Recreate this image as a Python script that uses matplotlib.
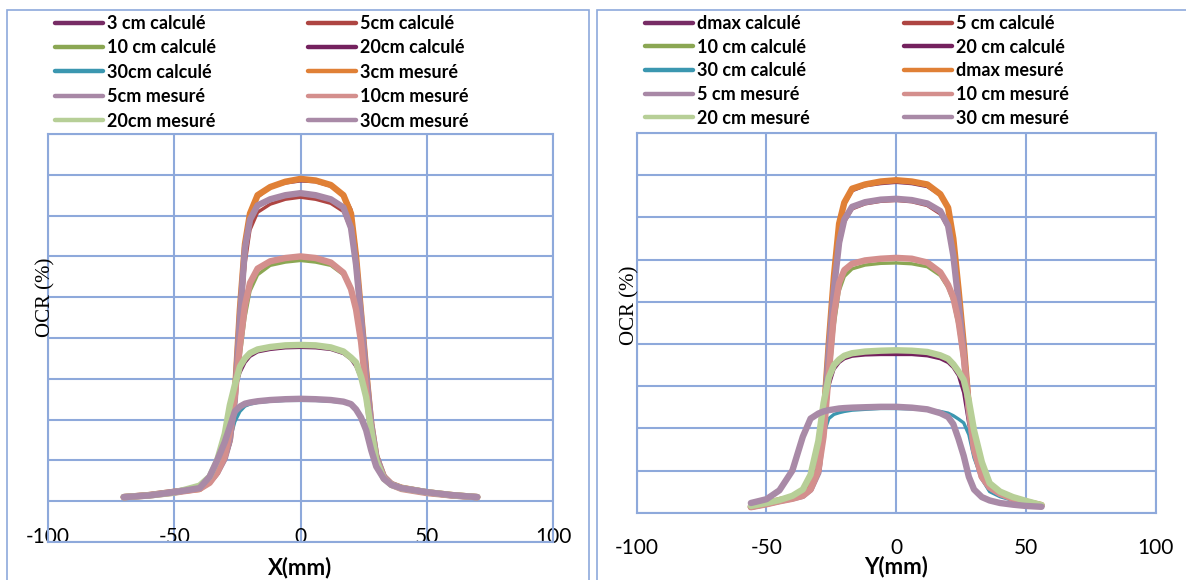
import matplotlib
matplotlib.use("Agg")
import matplotlib.pyplot as plt
from matplotlib.patches import Rectangle

plt.rcParams["axes.unicode_minus"] = False

# positions (mm) for the two profiles
x_pos = [-70, -60, -50, -40, -36, -33, -30, -28, -26, -24, -22, -20, -17, -12, -6, 0,
         6, 12, 17, 20, 22, 24, 26, 28, 30, 33, 36, 40, 50, 60, 70]
y_pos = [-56, -50, -45, -40, -36, -33, -30, -28, -26, -24, -22, -20, -17, -12, -6, 0,
         6, 12, 17, 20, 22, 24, 26, 28, 30, 33, 36, 40, 45, 50, 56]

# OCR values - X profile
x_3_calc = [0.9, 1.4, 2.2, 3.0, 4.5, 6.5, 10, 14, 22, 42, 62, 70.5, 74.5, 77, 78, 78.5,
            78.3, 77.2, 75.2, 71.5, 62, 48, 34, 21, 12, 6.5, 4.3, 3.2, 2.1, 1.4, 0.9]
x_5_calc = [0.9, 1.4, 2.2, 3.0, 4.5, 6.5, 10, 14, 22, 40, 58, 66.5, 70.8, 72.8, 74, 74.5,
            74, 73, 71, 66.5, 58, 46, 32, 20, 11.5, 6.3, 4.3, 3.2, 2.1, 1.4, 0.9]
x_10_calc = [0.9, 1.3, 2.0, 2.9, 4.3, 6.5, 10.5, 16, 24, 35, 45, 51.5, 55.5, 57.8, 58.6, 59,
             58.6, 57.8, 55.5, 52, 48, 41, 30, 20, 12, 6.5, 4.2, 3.1, 2.0, 1.4, 0.9]
x_20_calc = [0.8, 1.3, 2.0, 3.0, 4.5, 8, 14, 20.5, 27, 31.5, 34, 35.5, 36.6, 37.2, 37.6, 37.7,
             37.6, 37.2, 36.2, 34.8, 33, 30, 25, 17.5, 10, 5.5, 3.8, 3.0, 2.0, 1.4, 0.8]
x_30_calc = [0.9, 1.3, 2.0, 3.0, 5.0, 7.5, 11, 15, 19.5, 22, 23.3, 23.8, 24.2, 24.5, 24.7, 24.7,
             24.7, 24.5, 24.2, 23.6, 22.5, 20.5, 18.5, 14, 10, 6.5, 4.5, 3.4, 2.2, 1.5, 0.9]
x_3_mes = [1.0, 1.5, 2.3, 3.0, 5.0, 7.5, 11, 15, 26, 47, 63, 70.5, 75, 77, 78.3, 79,
           78.6, 77.5, 75, 70.5, 60, 46, 32, 19, 11, 6, 4.2, 3.3, 2.2, 1.5, 1.0]
x_5_mes = [1.0, 1.5, 2.3, 3.2, 4.8, 7, 10.5, 15, 25, 45, 62, 69, 72.5, 74, 75, 75.5,
           75, 74, 72, 67, 58, 45, 31, 19, 11, 6, 4.2, 3.2, 2.2, 1.4, 1.0]
x_10_mes = [1.0, 1.4, 2.1, 3.0, 4.5, 7, 11, 17, 26, 38, 48, 53.5, 57, 58.8, 59.6, 60,
            59.6, 58.5, 56, 52, 47, 39, 27, 17, 10, 5.8, 4.0, 3.0, 2.0, 1.4, 1.0]
x_20_mes = [1.0, 1.4, 2.1, 3.8, 6, 10, 16.5, 23.5, 28.5, 33, 35, 36.3, 37.2, 37.8, 38.2, 38.3,
            38.2, 37.7, 36.7, 35.2, 34, 30.5, 25.5, 17.5, 10, 5.5, 4.0, 3.2, 2.2, 1.5, 1.0]
x_30_mes = [1.0, 1.4, 2.2, 3.2, 6, 10, 14.5, 18.2, 22, 23.2, 23.9, 24.2, 24.5, 24.8, 25, 25.1,
            25, 24.8, 24.4, 23.8, 22.5, 20.5, 17.4, 12.5, 8.5, 5.5, 4.0, 3.2, 2.2, 1.5, 1.0]

# OCR values - Y profile
y_3_calc = [1.3, 2.0, 2.8, 3.4, 4.0, 5.5, 9.5, 21, 39, 55, 68, 73, 76.3, 77.5, 78, 78.3,
            78, 77.3, 75.3, 72.3, 65.5, 53, 39, 24, 15, 8.5, 6.0, 4.5, 3.3, 2.5, 1.7]
y_5_calc = [1.3, 2.0, 2.7, 3.3, 3.9, 5.3, 9.3, 20, 37, 52, 63, 68.8, 72, 73.2, 73.8, 74,
            73.7, 72.8, 70.8, 67.5, 60.5, 49.5, 37, 23, 14.5, 8.3, 5.9, 4.4, 3.2, 2.4, 1.6]
y_10_calc = [1.2, 1.9, 2.6, 3.2, 3.9, 5.3, 9.5, 17, 30, 44, 52.5, 56, 57.8, 58.7, 59.1, 59.2,
             59, 58.3, 56.2, 53.3, 50, 44, 35, 24, 14.5, 8.3, 5.8, 4.4, 3.2, 2.4, 1.6]
y_20_calc = [1.4, 2.1, 2.8, 3.7, 5.0, 8.0, 15, 22, 30, 34, 35.6, 36.5, 37.1, 37.4, 37.5, 37.5,
             37.5, 37.2, 36.5, 35.6, 34.4, 32.5, 28.5, 21, 15, 9.5, 6.3, 4.6, 3.5, 2.6, 1.7]
y_30_calc = [1.2, 1.8, 2.5, 3.3, 4.2, 6.0, 11, 18.5, 22.3, 23.3, 23.7, 24, 24.3, 24.5, 24.7, 24.7,
             24.6, 24.4, 24, 23.6, 23, 22.2, 21.3, 18.5, 13, 8, 5.0, 3.8, 2.9, 2.2, 1.6]
y_3_mes = [1.4, 2.2, 3.0, 3.6, 4.2, 5.8, 10, 22, 40, 56, 68.5, 73.5, 76.8, 77.8, 78.5, 78.8,
           78.5, 77.8, 75.5, 72.3, 65, 53, 40, 25, 16, 9, 6.3, 4.7, 3.5, 2.6, 1.8]
y_5_mes = [1.4, 2.1, 2.8, 3.4, 4.0, 5.5, 9.5, 21, 38, 53, 64, 69.5, 72.5, 73.6, 74.2, 74.4,
           74.1, 73.3, 71.5, 68, 61, 50, 38, 24, 15, 8.5, 6.0, 4.5, 3.3, 2.5, 1.7]
y_10_mes = [1.3, 2.0, 2.7, 3.3, 4.0, 5.5, 10, 18, 33, 47, 54.5, 57.5, 59, 59.8, 60.2, 60.4,
            60.2, 59.3, 57, 54, 51, 45.5, 37, 25, 15, 8.5, 6.0, 4.5, 3.3, 2.5, 1.7]
y_20_mes = [1.6, 2.3, 3.0, 4.0, 5.5, 9, 17, 26, 32, 35, 36.3, 37.2, 37.8, 38.2, 38.4, 38.5,
            38.4, 38.1, 37.3, 36.5, 35.2, 33.5, 31.5, 26.5, 19.5, 12, 7.0, 5.0, 3.7, 2.8, 1.8]
y_30_mes = [2.3, 3.2, 5.3, 10, 18, 22.3, 23.5, 24, 24.3, 24.5, 24.7, 24.8, 24.9, 25, 25.1, 25.1,
            24.9, 24.5, 23.6, 22.7, 21, 17.5, 13.5, 8.5, 5.5, 3.7, 2.9, 2.3, 1.9, 1.6, 1.4]

x_labels = ["3 cm calculé", "5cm calculé", "10 cm calculé", "20cm calculé", "30cm calculé",
            "3cm mesuré", "5cm mesuré", "10cm mesuré", "20cm mesuré", "30cm mesuré"]
y_labels = ["dmax calculé", "5 cm calculé", "10 cm calculé", "20 cm calculé", "30 cm calculé",
            "dmax mesuré", "5 cm mesuré", "10 cm mesuré", "20 cm mesuré", "30 cm mesuré"]

colors = ["#772C65", "#AE4542", "#8BA753", "#74215E", "#3B97B0",
          "#E08036", "#A888A6", "#D48F8D", "#B7CF97", "#A98AA7"]

x_series = [x_3_calc, x_5_calc, x_10_calc, x_20_calc, x_30_calc,
            x_3_mes, x_5_mes, x_10_mes, x_20_mes, x_30_mes]
y_series = [y_3_calc, y_5_calc, y_10_calc, y_20_calc, y_30_calc,
            y_3_mes, y_5_mes, y_10_mes, y_20_mes, y_30_mes]

W, H = 1186, 580
grid_c = "#8EA9DB"
font = "Lato"

fig = plt.figure(figsize=(W / 100, H / 100), dpi=100)

# chart area frames
fig.patches.append(Rectangle((7 / W, -0.1), (588.5 - 7) / W, 1.1 - 10 / H,
                             transform=fig.transFigure, fill=False, ec=grid_c, lw=1.2))
fig.patches.append(Rectangle((597 / W, -0.1), 0.5, 1.1 - 10 / H,
                             transform=fig.transFigure, fill=False, ec=grid_c, lw=1.2))

ax1 = fig.add_axes([48 / W, 1 - 542 / H, 505 / W, 408 / H])
ax2 = fig.add_axes([636.7 / W, 1 - 512.7 / H, 519 / W, 379.7 / H])


def draw(ax, pos, series, labels, ylo, pad, leg_x, leg_gap, leg_sp):
    for i, (vals, lab) in enumerate(zip(series, labels)):
        lw = 2.4 if i < 5 else 4.6
        ax.plot(pos, vals, color=colors[i], lw=lw, label=lab,
                solid_capstyle="round", solid_joinstyle="round")
    ax.set_xlim(-100, 100)
    ax.set_ylim(ylo, 90)
    ax.set_xticks([-100, -50, 0, 50, 100])
    ax.set_yticks(range(ylo, 91, 10))
    ax.set_yticklabels([])
    ax.grid(True, color=grid_c, lw=1.5)
    ax.set_axisbelow(True)
    for s in ax.spines.values():
        s.set_color(grid_c)
        s.set_linewidth(1.5)
    ax.tick_params(length=0, labelsize=15, pad=pad)
    for t in ax.get_xticklabels():
        t.set_fontfamily(font)
    handles, labs = ax.get_legend_handles_labels()
    order = [0, 2, 4, 6, 8, 1, 3, 5, 7, 9]
    leg = fig.legend([handles[k] for k in order], [labs[k] for k in order],
                     loc="upper left", bbox_to_anchor=(leg_x / W, 1 - 15 / H),
                     ncol=2, frameon=False, borderpad=0, borderaxespad=0,
                     handlelength=2.66, handletextpad=0.22, columnspacing=leg_gap,
                     labelspacing=leg_sp,
                     prop={"family": font, "weight": "bold", "size": 13})
    for ln in leg.get_lines():
        ln.set_linewidth(3.2)


draw(ax1, x_pos, x_series, x_labels, -10, -11, 55, 5.1, 0.41)
draw(ax2, y_pos, y_series, y_labels, 0, 18, 645, 5.2, 0.37)

fig.text(300 / W, 1 - 568 / H, "X(mm)", ha="center", va="center",
         fontsize=16, fontweight="bold", family=font)
fig.text(896 / W, 1 - 567 / H, "Y(mm)", ha="center", va="center",
         fontsize=16, fontweight="bold", family=font)
fig.text(46 / W, 1 - 297 / H, "OCR (%)", ha="center", va="center", rotation=90,
         fontsize=15, family="Liberation Serif")
fig.text(630 / W, 1 - 305 / H, "OCR (%)", ha="center", va="center", rotation=90,
         fontsize=15, family="Liberation Serif")

fig.savefig("out.png", dpi=100)
